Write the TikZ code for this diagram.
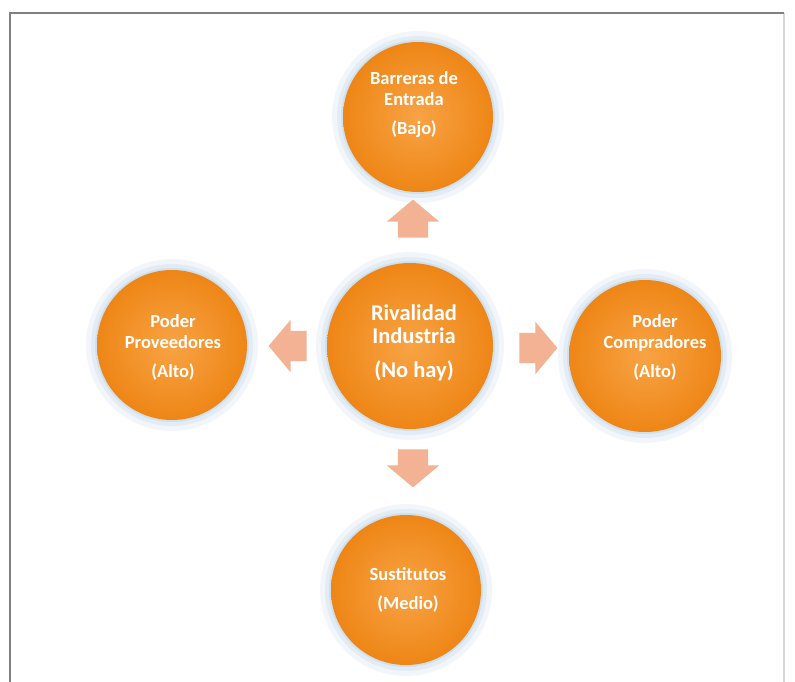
\documentclass[tikz,border=0pt]{standalone}
\usepackage{fontspec}
\setmainfont{Carlito}
\usetikzlibrary{shapes.arrows}
\definecolor{orA}{HTML}{F8A345}
\definecolor{orB}{HTML}{EE8616}
\definecolor{arrC}{HTML}{F3B293}
\definecolor{glow}{HTML}{BFD6EA}
\definecolor{frame}{HTML}{808080}
\definecolor{framelt}{HTML}{D8D8D8}
\tikzset{
  force/.style={circle, minimum size=150pt, inner sep=0pt,
    inner color=orA, outer color=orB},
  ftext/.style={text=white, align=center, inner sep=0pt,
    font=\bfseries\fontsize{18.5}{21}\selectfont},
  bigtext/.style={ftext, font=\bfseries\fontsize{22.5}{23}\selectfont},
  blockarrow/.style={single arrow, fill=arrC, draw=none,
    minimum height=38pt, inner xsep=0pt, inner ysep=15pt,
    single arrow head extend=11pt, single arrow tip angle=100},
}
\newcommand{\glowcirc}[2]{%
  \fill[glow, opacity=0.2] #1 circle (#2+11pt);
  \fill[glow, opacity=0.3] #1 circle (#2+6pt);
  \fill[glow, opacity=0.5] #1 circle (#2+2pt);
}
\begin{document}
\begin{tikzpicture}[x=1pt,y=-1pt]
\useasboundingbox (0,0) rectangle (795,681);
\fill[white] (0,0) rectangle (795,681);
\draw[framelt, line width=2pt] (784,13) -- (784,700);
\draw[frame, line width=2.2pt] (10,700) -- (10,13) -- (784,13);
\glowcirc{(418,117)}{75pt}
\glowcirc{(172,345)}{75pt}
\glowcirc{(410,346)}{83pt}
\glowcirc{(645,356)}{76pt}
\glowcirc{(406,590)}{75pt}
\node[force] (top) at (418,117) {};
\node[force] (left) at (172,345) {};
\node[force, minimum size=166pt] (mid) at (410,346) {};
\node[force, minimum size=152pt] (right) at (645,356) {};
\node[force] (bot) at (406,590) {};
\node[ftext] (topt) at (414,105) {Barreras de\\Entrada\\[8pt](Bajo)};
\node[ftext] (leftt) at (173,347) {Poder\\Proveedores\\[8pt](Alto)};
\node[bigtext] (midt) at (414,343) {Rivalidad\\Industria\\[11pt](No hay)};
\node[ftext] (rightt) at (655,347) {Poder\\Compradores\\[8pt](Alto)};
\node[ftext] (bott) at (408,590) {Sustitutos\\[8pt](Medio)};
\node[blockarrow, rotate=90] (au) at (413,225) {};
\node[blockarrow, rotate=180] (al) at (294,346) {};
\node[blockarrow] (ar) at (532,348) {};
\node[blockarrow, rotate=-90] (ad) at (413,462) {};
\end{tikzpicture}
\end{document}
